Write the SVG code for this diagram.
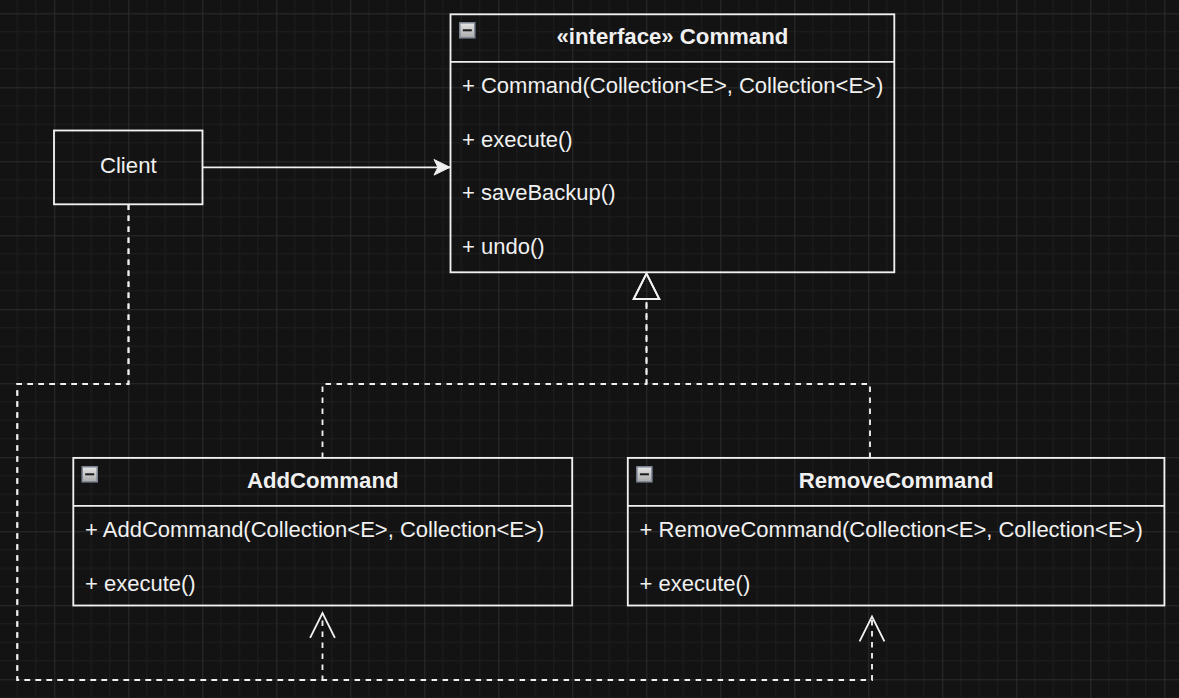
<svg xmlns="http://www.w3.org/2000/svg" width="1179" height="698" viewBox="0 0 1179 698">
  <style>
    .box { fill: none; stroke: #f0f0f0; stroke-width: 1.85; }
    .title { font-family: "Liberation Sans", Arial, sans-serif; font-size: 22.2px; font-weight: bold; fill: #f0f0f0; text-anchor: middle; }
    .member { font-family: "Liberation Sans", Arial, sans-serif; font-size: 22px; fill: #f0f0f0; }
    .label { font-family: "Liberation Sans", Arial, sans-serif; font-size: 22.2px; fill: #f0f0f0; text-anchor: middle; }
    .edge { fill: none; stroke: #f0f0f0; stroke-width: 1.85; }
    .dashed { stroke-dasharray: 5.5 5.5; }
  </style>
  <defs>
    <pattern id="grid" x="54.3" y="13.3" width="74" height="74" patternUnits="userSpaceOnUse">
      <rect x="0" y="0" width="74" height="74" fill="#131313"/>
      <g stroke="#1e1e1e" stroke-width="1">
        <line x1="18.5" y1="0" x2="18.5" y2="74"/>
        <line x1="37" y1="0" x2="37" y2="74"/>
        <line x1="55.5" y1="0" x2="55.5" y2="74"/>
        <line x1="0" y1="18.5" x2="74" y2="18.5"/>
        <line x1="0" y1="37" x2="74" y2="37"/>
        <line x1="0" y1="55.5" x2="74" y2="55.5"/>
      </g>
      <g stroke="#2c2c2c" stroke-width="1">
        <line x1="0.5" y1="0" x2="0.5" y2="74"/>
        <line x1="0" y1="0.5" x2="74" y2="0.5"/>
      </g>
    </pattern>
    <linearGradient id="iconGrad" x1="0" y1="0" x2="0" y2="1">
      <stop offset="0" stop-color="#e6e6e6"/>
      <stop offset="1" stop-color="#a9a9a9"/>
    </linearGradient>
    <g id="collapseIcon">
      <rect x="0.5" y="0.5" width="15" height="15" fill="url(#iconGrad)" stroke="#7f8796" stroke-width="1.5"/>
      <line x1="3.5" y1="8" x2="12.5" y2="8" stroke="#1a1a1a" stroke-width="2"/>
    </g>
    <marker id="classic" markerUnits="userSpaceOnUse" markerWidth="40" markerHeight="40" refX="0" refY="0" orient="auto" viewBox="-20 -20 40 40" overflow="visible">
      <path d="M0,0 L-16,-7.8 L-12,0 L-16,7.8 Z" fill="#f0f0f0" stroke="#f0f0f0" stroke-width="1" stroke-linejoin="miter"/>
    </marker>
    <marker id="hollowTri" markerUnits="userSpaceOnUse" markerWidth="60" markerHeight="60" refX="0" refY="0" orient="auto" viewBox="-30 -30 60 60" overflow="visible">
      <path d="M0,-12.8 L25.5,0 L0,12.8 Z" fill="none" stroke="#f0f0f0" stroke-width="1.85"/>
    </marker>
    <marker id="openV" markerUnits="userSpaceOnUse" markerWidth="60" markerHeight="60" refX="0" refY="0" orient="auto" viewBox="-30 -30 60 60" overflow="visible">
      <path d="M-24.8,-12.4 L0,0 L-24.8,12.4" fill="none" stroke="#f0f0f0" stroke-width="1.85"/>
    </marker>
  </defs>

  <rect x="0" y="0" width="1179" height="698" fill="url(#grid)"/>

  <g id="connectors">
    <path id="client-command" class="edge" d="M203,167.3 L450,167.3" marker-end="url(#classic)"/>
    <path id="add-command" class="edge dashed" d="M322.5,458 L322.5,384 L646.5,384 L646.5,299" marker-end="url(#hollowTri)"/>
    <path id="remove-command" class="edge dashed" d="M870,458 L870,384 L646.5,384 L646.5,299" marker-end="url(#hollowTri)"/>
    <path id="client-add" class="edge dashed" d="M128.5,204.5 L128.5,384 L17.3,384 L17.3,680 L322.5,680 L322.5,613" marker-end="url(#openV)"/>
    <path id="client-remove" class="edge dashed" d="M128.5,204.5 L128.5,384 L17.3,384 L17.3,680 L872,680 L872,616.5" marker-end="url(#openV)"/>
  </g>

  <g id="client">
    <rect class="box" x="54" y="130.5" width="148.5" height="73.8"/>
    <text class="label" x="128.3" y="172.9">Client</text>
  </g>

  <g id="command">
    <rect class="box" x="450.5" y="14.3" width="443.8" height="258"/>
    <line class="box" x1="450.5" y1="61.8" x2="894.3" y2="61.8"/>
    <use href="#collapseIcon" x="459.3" y="22.3"/>
    <text class="title" x="672.4" y="44">«interface» Command</text>
    <text class="member" x="462" y="93">+ Command(Collection&lt;E&gt;, Collection&lt;E&gt;)</text>
    <text class="member" x="462" y="146.6">+ execute()</text>
    <text class="member" x="462" y="200.2">+ saveBackup()</text>
    <text class="member" x="462" y="253.8">+ undo()</text>
  </g>

  <g id="addcommand">
    <rect class="box" x="73.3" y="457.9" width="498.9" height="147.6"/>
    <line class="box" x1="73.3" y1="505.8" x2="572.2" y2="505.8"/>
    <use href="#collapseIcon" x="81.7" y="466.3"/>
    <text class="title" x="322.7" y="487.8">AddCommand</text>
    <text class="member" x="85" y="537.2">+ AddCommand(Collection&lt;E&gt;, Collection&lt;E&gt;)</text>
    <text class="member" x="85" y="590.7">+ execute()</text>
  </g>

  <g id="removecommand">
    <rect class="box" x="627.8" y="457.9" width="536.6" height="147.6"/>
    <line class="box" x1="627.8" y1="505.8" x2="1164.4" y2="505.8"/>
    <use href="#collapseIcon" x="636.4" y="466.3"/>
    <text class="title" x="896.1" y="487.8">RemoveCommand</text>
    <text class="member" x="639.6" y="537.2">+ RemoveCommand(Collection&lt;E&gt;, Collection&lt;E&gt;)</text>
    <text class="member" x="639.6" y="590.7">+ execute()</text>
  </g>
</svg>
